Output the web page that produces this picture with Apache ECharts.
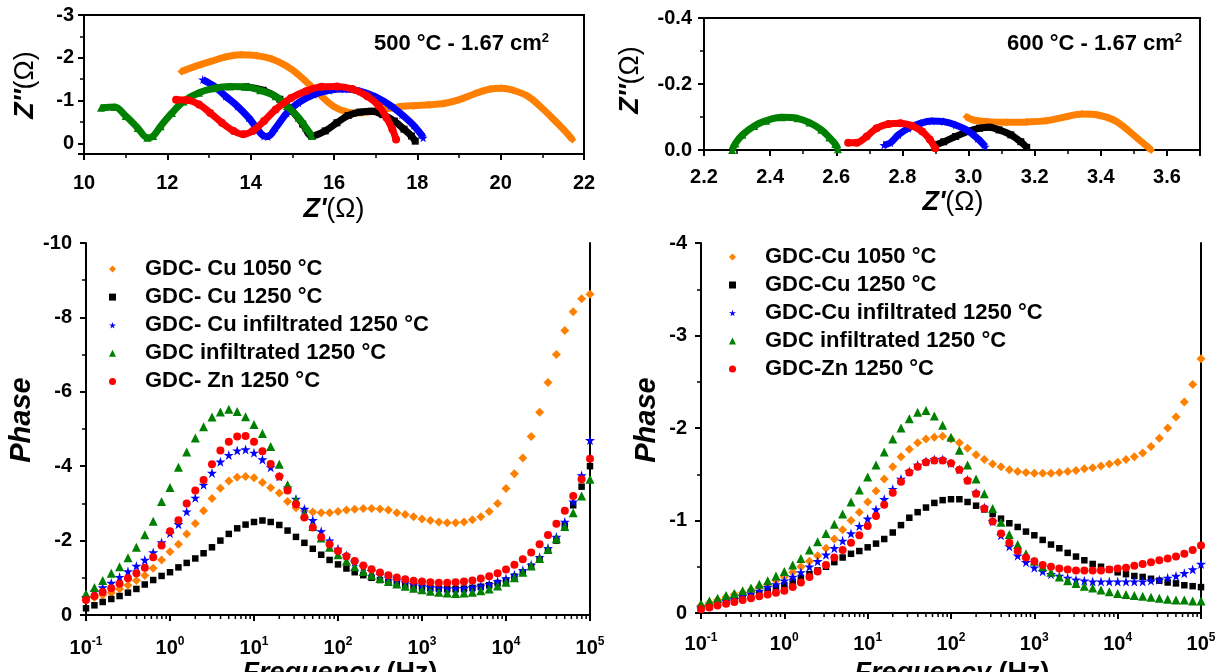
<!DOCTYPE html>
<html><head><meta charset="utf-8">
<script src="https://cdn.jsdelivr.net/npm/echarts@6/dist/echarts.min.js"></script>
<style>html,body{margin:0;padding:0;background:#fff}#c{width:1225px;height:672px}</style>
</head><body><div id="c"></div>
<script>
// ---------- DATA ----------
const namesBL = ['GDC- Cu 1050 °C','GDC- Cu 1250 °C','GDC- Cu infiltrated 1250 °C','GDC infiltrated 1250 °C','GDC- Zn 1250 °C'];
const namesBR = ['GDC-Cu 1050 °C','GDC-Cu 1250 °C','GDC-Cu infiltrated 1250 °C','GDC infiltrated 1250 °C','GDC-Zn 1250 °C'];
const minorTickFreqs = [0.2,0.3,0.4,0.5,0.6,0.7,0.8,0.9,2,3,4,5,6,7,8,9,20,30,40,50,60,70,80,90,200,300,400,500,600,700,800,900,2000,3000,4000,5000,6000,7000,8000,9000,20000,30000,40000,50000,60000,70000,80000,90000];

// frequency (Hz)
const freq = [0.1,0.126,0.158,0.2,0.251,0.316,0.398,0.501,0.631,0.794,
  1,1.26,1.58,2,2.51,3.16,3.98,5.01,6.31,7.94,
  10,12.6,15.8,20,25.1,31.6,39.8,50.1,63.1,79.4,
  100,126,158,200,251,316,398,501,631,794,
  1000,1259,1585,1995,2512,3162,3981,5012,6310,7943,
  10000,12589,15849,19953,25119,31623,39811,50119,63096,79433,100000];

// Nyquist 500 °C (Z', Z'')
const n500_Cu1050_re = [12.34,12.67,13.03,13.4,13.77,14.14,14.51,14.87,15.15,15.43,15.7,15.98,16.25,16.53,16.8,17.17,17.54,17.91,18.28,18.64,19.01,19.38,19.75,20.02,20.3,20.67,21.03,21.31,21.54,21.72];
const n500_Cu1050_im = [-1.68,-1.8,-1.91,-2.02,-2.07,-2.05,-1.97,-1.8,-1.6,-1.35,-1.1,-0.87,-0.75,-0.71,-0.73,-0.79,-0.85,-0.88,-0.9,-0.93,-1.02,-1.16,-1.27,-1.29,-1.24,-1.09,-0.79,-0.52,-0.29,-0.09];
const n500_Cu1250_re = [13.9,14.3,14.7,15.0,15.25,15.47,15.79,16.07,16.34,16.62,16.9,17.17,17.45,17.68,17.86,17.95];
const n500_Cu1250_im = [-1.32,-1.24,-1.03,-0.75,-0.45,-0.17,-0.29,-0.48,-0.65,-0.73,-0.75,-0.67,-0.52,-0.33,-0.17,-0.05];
const n500_CuInf_re = [12.85,13.13,13.4,13.68,13.95,14.14,14.32,14.41,14.6,14.87,15.15,15.52,15.89,16.25,16.62,16.99,17.36,17.63,17.91,18.09,18.14];
const n500_CuInf_im = [-1.49,-1.33,-1.1,-0.87,-0.6,-0.36,-0.17,-0.16,-0.36,-0.71,-0.95,-1.14,-1.24,-1.27,-1.22,-1.09,-0.88,-0.67,-0.42,-0.21,-0.13];
const n500_GdcInf_re = [10.41,10.74,11.0,11.29,11.52,11.66,11.84,12.11,12.39,12.76,13.13,13.49,13.86,14.23,14.6,14.87,15.15,15.33,15.47];
const n500_GdcInf_im = [-0.83,-0.85,-0.64,-0.36,-0.13,-0.17,-0.4,-0.71,-0.98,-1.18,-1.29,-1.33,-1.32,-1.24,-1.1,-0.87,-0.6,-0.36,-0.17];
const n500_Zn_re = [12.21,12.48,12.76,13.03,13.31,13.59,13.82,14.05,14.32,14.6,14.97,15.33,15.7,16.07,16.44,16.8,17.08,17.26,17.4,17.49];
const n500_Zn_im = [-1.02,-1.01,-0.91,-0.71,-0.48,-0.29,-0.21,-0.29,-0.52,-0.79,-1.06,-1.22,-1.32,-1.33,-1.27,-1.1,-0.87,-0.6,-0.33,-0.09];

// Nyquist 600 °C
const n600_Cu1050_re = [2.994,3.015,3.057,3.116,3.176,3.236,3.296,3.343,3.391,3.439,3.475,3.511,3.541,3.552];
const n600_Cu1050_im = [-0.101,-0.091,-0.086,-0.084,-0.085,-0.089,-0.101,-0.109,-0.106,-0.091,-0.066,-0.035,-0.01,0];
const n600_Cu1250_re = [2.899,2.925,2.961,2.997,3.033,3.063,3.092,3.128,3.158,3.176];
const n600_Cu1250_im = [-0.015,-0.025,-0.041,-0.056,-0.066,-0.069,-0.061,-0.046,-0.025,-0.008];
const n600_CuInf_re = [2.744,2.764,2.788,2.818,2.854,2.889,2.925,2.961,2.997,3.027,3.051];
const n600_CuInf_im = [-0.015,-0.022,-0.046,-0.066,-0.081,-0.088,-0.086,-0.076,-0.059,-0.035,-0.01];
const n600_GdcInf_re = [2.285,2.295,2.316,2.352,2.388,2.435,2.483,2.519,2.555,2.579,2.597,2.605];
const n600_GdcInf_im = [0,-0.02,-0.046,-0.073,-0.089,-0.099,-0.096,-0.083,-0.061,-0.038,-0.018,-0.002];
const n600_Zn_re = [2.636,2.662,2.692,2.722,2.758,2.794,2.83,2.86,2.883,2.899];
const n600_Zn_im = [-0.022,-0.022,-0.041,-0.066,-0.079,-0.081,-0.073,-0.056,-0.032,-0.005];

// Phase 500 °C
const p500_Cu1050 = [-0.4,-0.47,-0.54,-0.6,-0.7,-0.8,-0.93,-1.06,-1.26,-1.48,
  -1.7,-1.9,-2.18,-2.46,-2.8,-3.13,-3.41,-3.6,-3.7,-3.72,
  -3.69,-3.56,-3.42,-3.28,-3.05,-2.88,-2.8,-2.77,-2.75,-2.75,
  -2.78,-2.82,-2.84,-2.86,-2.86,-2.85,-2.82,-2.75,-2.7,-2.64,
  -2.58,-2.54,-2.5,-2.48,-2.48,-2.5,-2.56,-2.64,-2.78,-3.0,
  -3.4,-3.8,-4.22,-4.8,-5.45,-6.25,-7.0,-7.65,-8.15,-8.5,-8.62];
const p500_Cu1250 = [-0.18,-0.26,-0.35,-0.43,-0.51,-0.6,-0.7,-0.82,-0.94,-1.05,
  -1.15,-1.28,-1.4,-1.52,-1.66,-1.82,-2.0,-2.18,-2.33,-2.43,
  -2.5,-2.54,-2.5,-2.42,-2.27,-2.1,-1.94,-1.78,-1.62,-1.48,
  -1.36,-1.25,-1.15,-1.07,-1.0,-0.94,-0.89,-0.84,-0.8,-0.77,
  -0.74,-0.72,-0.71,-0.7,-0.7,-0.71,-0.73,-0.76,-0.8,-0.86,
  -0.93,-1.03,-1.15,-1.3,-1.5,-1.73,-2.0,-2.4,-2.95,-3.45,-4.0];
const p500_CuInf = [-0.48,-0.63,-0.74,-0.86,-1.02,-1.17,-1.32,-1.48,-1.68,-1.95,
  -2.2,-2.44,-2.78,-3.15,-3.5,-3.82,-4.12,-4.3,-4.42,-4.45,
  -4.36,-4.18,-3.97,-3.72,-3.42,-3.12,-2.85,-2.55,-2.25,-2.0,
  -1.78,-1.6,-1.43,-1.3,-1.18,-1.08,-1.0,-0.93,-0.87,-0.82,
  -0.78,-0.75,-0.73,-0.71,-0.71,-0.72,-0.74,-0.78,-0.83,-0.9,
  -0.98,-1.08,-1.2,-1.35,-1.55,-1.8,-2.1,-2.5,-3.05,-3.75,-4.7];
const p500_GdcInf = [-0.57,-0.74,-0.93,-1.12,-1.3,-1.54,-1.82,-2.16,-2.52,-3.05,
  -3.43,-3.97,-4.38,-4.76,-5.06,-5.32,-5.46,-5.53,-5.47,-5.33,
  -5.12,-4.88,-4.53,-4.05,-3.5,-3.1,-2.72,-2.38,-2.07,-1.82,
  -1.62,-1.45,-1.3,-1.17,-1.07,-0.98,-0.9,-0.83,-0.77,-0.72,
  -0.68,-0.64,-0.61,-0.59,-0.58,-0.59,-0.61,-0.65,-0.7,-0.78,
  -0.88,-1.0,-1.15,-1.32,-1.52,-1.76,-2.05,-2.38,-2.75,-3.2,-3.65];
const p500_Zn = [-0.4,-0.51,-0.62,-0.72,-0.84,-0.99,-1.12,-1.27,-1.55,-1.87,
  -2.25,-2.55,-3.0,-3.35,-3.63,-4.05,-4.42,-4.66,-4.8,-4.81,
  -4.66,-4.4,-4.06,-3.72,-3.35,-2.98,-2.62,-2.35,-2.1,-1.9,
  -1.72,-1.58,-1.45,-1.33,-1.23,-1.14,-1.07,-1.01,-0.96,-0.92,
  -0.9,-0.88,-0.87,-0.87,-0.88,-0.9,-0.93,-0.98,-1.04,-1.12,
  -1.22,-1.35,-1.5,-1.68,-1.9,-2.15,-2.45,-2.8,-3.2,-3.65,-4.2];

// Phase 600 °C
const p600_Cu1050 = [-0.08,-0.11,-0.14,-0.17,-0.2,-0.22,-0.25,-0.28,-0.31,-0.35,
  -0.39,-0.44,-0.5,-0.56,-0.62,-0.7,-0.8,-0.9,-1.0,-1.09,
  -1.2,-1.32,-1.45,-1.58,-1.69,-1.77,-1.84,-1.88,-1.9,-1.91,
  -1.88,-1.84,-1.78,-1.71,-1.66,-1.61,-1.58,-1.55,-1.53,-1.52,
  -1.51,-1.51,-1.51,-1.52,-1.53,-1.54,-1.56,-1.57,-1.59,-1.61,
  -1.63,-1.66,-1.69,-1.73,-1.8,-1.89,-2.0,-2.12,-2.28,-2.47,-2.75];
const p600_Cu1250 = [-0.05,-0.07,-0.1,-0.12,-0.14,-0.16,-0.18,-0.21,-0.24,-0.27,
  -0.3,-0.34,-0.38,-0.42,-0.46,-0.5,-0.55,-0.6,-0.64,-0.67,
  -0.71,-0.75,-0.8,-0.87,-0.95,-1.03,-1.09,-1.14,-1.19,-1.22,
  -1.23,-1.23,-1.2,-1.16,-1.12,-1.07,-1.02,-0.97,-0.93,-0.88,
  -0.84,-0.79,-0.74,-0.7,-0.65,-0.61,-0.57,-0.53,-0.5,-0.47,
  -0.44,-0.42,-0.4,-0.39,-0.37,-0.35,-0.33,-0.32,-0.3,-0.29,-0.28];
const p600_CuInf = [-0.06,-0.08,-0.11,-0.13,-0.15,-0.18,-0.21,-0.24,-0.28,-0.31,
  -0.35,-0.39,-0.44,-0.5,-0.56,-0.63,-0.7,-0.78,-0.86,-0.94,
  -1.02,-1.12,-1.23,-1.34,-1.45,-1.53,-1.6,-1.64,-1.66,-1.66,
  -1.62,-1.55,-1.44,-1.3,-1.14,-0.99,-0.84,-0.72,-0.62,-0.55,
  -0.49,-0.45,-0.42,-0.4,-0.38,-0.36,-0.35,-0.34,-0.34,-0.34,
  -0.34,-0.34,-0.34,-0.34,-0.35,-0.36,-0.38,-0.4,-0.43,-0.47,-0.53];
const p600_GdcInf = [-0.1,-0.13,-0.16,-0.19,-0.21,-0.24,-0.27,-0.31,-0.35,-0.4,
  -0.45,-0.52,-0.59,-0.68,-0.77,-0.86,-0.96,-1.07,-1.2,-1.33,
  -1.47,-1.6,-1.74,-1.88,-2.0,-2.1,-2.17,-2.19,-2.13,-2.03,
  -1.9,-1.76,-1.6,-1.45,-1.29,-1.13,-0.98,-0.85,-0.74,-0.64,
  -0.56,-0.5,-0.44,-0.39,-0.35,-0.32,-0.29,-0.27,-0.25,-0.23,
  -0.21,-0.2,-0.19,-0.18,-0.17,-0.16,-0.15,-0.14,-0.14,-0.13,-0.13];
const p600_Zn = [-0.04,-0.06,-0.08,-0.1,-0.12,-0.14,-0.16,-0.18,-0.2,-0.22,
  -0.24,-0.28,-0.33,-0.39,-0.45,-0.52,-0.6,-0.68,-0.76,-0.84,
  -0.94,-1.05,-1.17,-1.3,-1.42,-1.52,-1.58,-1.63,-1.65,-1.65,
  -1.62,-1.55,-1.43,-1.29,-1.13,-0.99,-0.86,-0.76,-0.67,-0.6,
  -0.56,-0.52,-0.5,-0.48,-0.47,-0.46,-0.46,-0.46,-0.46,-0.47,
  -0.48,-0.49,-0.51,-0.53,-0.55,-0.57,-0.59,-0.61,-0.64,-0.68,-0.73];

// ---------- STYLE ----------
const FONT = '"Liberation Sans", Arial, Helvetica, sans-serif';
const COLORS = ['#FF8000','#000000','#0000FF','#008000','#FF0000'];
const STAR = 'path://M50,0 L61,35 L98,35 L68,57 L79,91 L50,70 L21,91 L32,57 L2,35 L39,35 Z';
const SYMBOLS = ['diamond','rect',STAR,'triangle','circle'];
const SYMSIZE = [9,6.5,10,9,8];
const NYQSIZE = [8,7,9,8,8];

const chart = echarts.init(document.getElementById('c'));

function axisBase(gridIndex, extra, labelExtra) {
  return Object.assign({
    gridIndex: gridIndex,
    axisLine: {show: true, onZero: false, lineStyle: {color: '#000', width: 2}},
    axisTick: {show: true, inside: false, length: 6, lineStyle: {color: '#000', width: 2}},
    minorTick: {show: true, splitNumber: 2, length: 4, lineStyle: {color: '#000', width: 1.5}},
    splitLine: {show: false},
    minorSplitLine: {show: false},
    axisLabel: Object.assign({color: '#000', fontFamily: FONT, fontWeight: 'bold', fontSize: 20, margin: 12}, labelExtra || {})
  }, extra);
}
const powLabel = {
  formatter: function (v) { return '{b|10}{s|' + Math.round(Math.log10(v)) + '}'; },
  margin: 21,
  rich: {
    b: {fontFamily: FONT, fontWeight: 'bold', fontSize: 20, color: '#000', lineHeight: 24},
    s: {fontFamily: FONT, fontWeight: 'bold', fontSize: 12, color: '#000', padding: [0, 0, 12, 0]}
  }
};

const xAxes = [
  axisBase(0, {type: 'value', min: 10, max: 22, interval: 2}, {margin: 19}),
  axisBase(1, {type: 'value', min: 2.2, max: 3.7, interval: 0.2}, {margin: 17,
    formatter: function (v) { return Math.abs(v - 3.7) < 1e-6 ? '' : v.toFixed(1); }}),
  axisBase(2, {type: 'log', logBase: 10, min: 0.1, max: 100000, splitNumber: 6, minorTick: {show: false}}, powLabel),
  axisBase(3, {type: 'log', logBase: 10, min: 0.1, max: 100000, splitNumber: 6, minorTick: {show: false}}, Object.assign({}, powLabel, {margin: 19}))
];
const yAxes = [
  axisBase(0, {type: 'value', min: -3, max: 0.25, interval: 1, inverse: true}, {margin: 10,
    formatter: function (v) { return Math.abs(v - Math.round(v)) > 1e-6 ? '' : String(Math.round(v)); }}),
  axisBase(1, {type: 'value', min: -0.4, max: 0, interval: 0.2, inverse: true}, {margin: 12,
    formatter: function (v) { return (Math.abs(v) < 1e-9 ? 0 : v).toFixed(1); }}),
  axisBase(2, {type: 'value', min: -10, max: 0, interval: 2, inverse: true}, {margin: 14}),
  axisBase(3, {type: 'value', min: -4, max: 0, interval: 1, inverse: true}, {margin: 14}),
  {type: 'value', gridIndex: 2, position: 'right', min: 0, max: 1, axisLine: {show: true, onZero: false, lineStyle: {color: '#000', width: 2}}, axisTick: {show: false}, axisLabel: {show: false}, splitLine: {show: false}},
  {type: 'value', gridIndex: 3, position: 'right', min: 0, max: 1, axisLine: {show: true, onZero: false, lineStyle: {color: '#000', width: 2}}, axisTick: {show: false}, axisLabel: {show: false}, splitLine: {show: false}}
];

function zip(a, b) { return a.map(function (v, i) { return [v, b[i]]; }); }

const nyq500 = [[n500_Cu1050_re, n500_Cu1050_im],[n500_Cu1250_re, n500_Cu1250_im],[n500_CuInf_re, n500_CuInf_im],[n500_GdcInf_re, n500_GdcInf_im],[n500_Zn_re, n500_Zn_im]];
const nyq600 = [[n600_Cu1050_re, n600_Cu1050_im],[n600_Cu1250_re, n600_Cu1250_im],[n600_CuInf_re, n600_CuInf_im],[n600_GdcInf_re, n600_GdcInf_im],[n600_Zn_re, n600_Zn_im]];
const ph500 = [p500_Cu1050, p500_Cu1250, p500_CuInf, p500_GdcInf, p500_Zn];
const ph600 = [p600_Cu1050, p600_Cu1250, p600_CuInf, p600_GdcInf, p600_Zn];

const series = [];
nyq500.forEach(function (d, i) {
  series.push({type: 'line', name: 'Nyquist 500 ' + i, xAxisIndex: 0, yAxisIndex: 0, data: zip(d[0], d[1]),
    smooth: 0.35, symbol: SYMBOLS[i], symbolSize: NYQSIZE[i], showAllSymbol: true,
    lineStyle: {color: COLORS[i], width: 7}, itemStyle: {color: COLORS[i]}, z: 2 + i});
});
nyq600.forEach(function (d, i) {
  series.push({type: 'line', name: 'Nyquist 600 ' + i, xAxisIndex: 1, yAxisIndex: 1, data: zip(d[0], d[1]),
    smooth: 0.35, symbol: SYMBOLS[i], symbolSize: NYQSIZE[i], showAllSymbol: true,
    lineStyle: {color: COLORS[i], width: 7}, itemStyle: {color: COLORS[i]}, z: 2 + i});
});
ph500.forEach(function (d, i) {
  series.push({type: 'scatter', name: namesBL[i], xAxisIndex: 2, yAxisIndex: 2, data: zip(freq, d),
    symbol: SYMBOLS[i], symbolSize: SYMSIZE[i], itemStyle: {color: COLORS[i], opacity: 1}, z: 2 + i});
});
ph600.forEach(function (d, i) {
  series.push({type: 'scatter', name: namesBR[i], xAxisIndex: 3, yAxisIndex: 3, data: zip(freq, d),
    symbol: SYMBOLS[i], symbolSize: SYMSIZE[i], itemStyle: {color: COLORS[i], opacity: 1}, z: 2 + i});
});
[2, 3].forEach(function (ax) {
  series.push({type: 'custom', name: 'minor ticks ' + ax, xAxisIndex: ax, yAxisIndex: ax, silent: true, clip: false, z: 1,
    data: minorTickFreqs.map(function (f) { return [f, 0]; }),
    renderItem: function (params, api) {
      const p = api.coord([api.value(0), 0]);
      return {type: 'line', shape: {x1: p[0], y1: p[1], x2: p[0], y2: p[1] + 4}, style: {stroke: '#000', lineWidth: 1.5}};
    }});
});

const legendText = {color: '#000', fontFamily: FONT, fontWeight: 'bold', fontSize: 22, padding: [0, 0, 0, 24], lineHeight: 22};

function rot(text, x, y, rich) {
  return {type: 'text', x: x, y: y, rotation: Math.PI / 2, style: {text: text, align: 'center', verticalAlign: 'middle', rich: rich}};
}
const zRich = {
  i: {fontFamily: FONT, fontWeight: 'bold', fontStyle: 'italic', fontSize: 27, fill: '#000'},
  n: {fontFamily: FONT, fontSize: 27, fill: '#000'}
};
const annRich = {
  a: {fontFamily: FONT, fontWeight: 'bold', fontSize: 22, fill: '#000'},
  s: {fontFamily: FONT, fontWeight: 'bold', fontSize: 13, fill: '#000', padding: [0, 0, 12, 0]}
};
const phRich = {p: {fontFamily: FONT, fontWeight: 'bold', fontStyle: 'italic', fontSize: 29, fill: '#000'}};
const fqRich = {
  i: {fontFamily: FONT, fontWeight: 'bold', fontStyle: 'italic', fontSize: 27, fill: '#000'},
  n: {fontFamily: FONT, fontWeight: 'bold', fontSize: 27, fill: '#000'}
};

chart.setOption({
  animation: false,
  backgroundColor: '#fff',
  textStyle: {fontFamily: FONT},
  grid: [
    {left: 84, top: 15, width: 500, height: 139, show: true, borderColor: '#000', borderWidth: 2, containLabel: false},
    {left: 704, top: 18, width: 496, height: 132, show: true, borderColor: '#000', borderWidth: 2, containLabel: false},
    {left: 86, top: 243, width: 504, height: 372, containLabel: false},
    {left: 701, top: 243, width: 500, height: 370, containLabel: false}
  ],
  xAxis: xAxes,
  yAxis: yAxes,
  legend: [
    {data: namesBL, orient: 'vertical', left: 109, top: 258, itemWidth: 7, itemHeight: 7, itemGap: 6.1, padding: 0, selectedMode: false, textStyle: legendText},
    {data: namesBR, orient: 'vertical', left: 729, top: 246, itemWidth: 7, itemHeight: 7, itemGap: 6, padding: 0, selectedMode: false, textStyle: legendText}
  ],
  series: series,
  graphic: [
    {type: 'text', x: 374, y: 44, style: {text: '{a|500 °C - 1.67 cm}{s|2}', verticalAlign: 'middle', rich: annRich}},
    {type: 'text', x: 1007, y: 44, style: {text: '{a|600 °C - 1.67 cm}{s|2}', verticalAlign: 'middle', rich: annRich}},
    rot("{i|Z''}{n|(Ω)}", 26, 85, zRich),
    rot("{i|Z''}{n|(Ω)}", 631, 80, zRich),
    {type: 'text', x: 334, y: 210, style: {text: "{i|Z'}{n|(Ω)}", align: 'center', verticalAlign: 'middle', rich: zRich}},
    {type: 'text', x: 953, y: 203, style: {text: "{i|Z'}{n|(Ω)}", align: 'center', verticalAlign: 'middle', rich: zRich}},
    rot('{p|Phase}', 22, 420, phRich),
    rot('{p|Phase}', 647, 420, phRich),
    {type: 'text', x: 340, y: 660, style: {text: '{i|Frequency }{n|(Hz)}', align: 'center', verticalAlign: 'top', rich: fqRich}},
    {type: 'text', x: 952, y: 660, style: {text: '{i|Frequency }{n|(Hz)}', align: 'center', verticalAlign: 'top', rich: fqRich}}
  ]
});
</script></body></html>
